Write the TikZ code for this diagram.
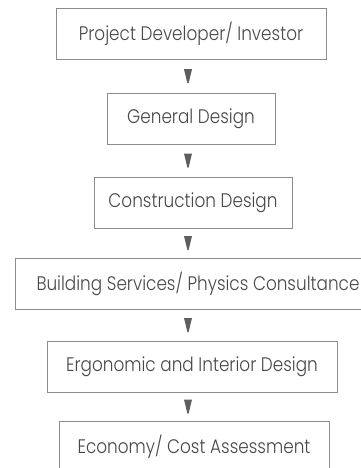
\documentclass[tikz,border=0pt]{standalone}
\usepackage{fontspec}
\setmainfont{Poppins Light}[FakeStretch=0.86]
\usetikzlibrary{calc}
\definecolor{txtgray}{HTML}{484848}
\definecolor{linegray}{HTML}{8C8C8C}
\definecolor{arrgray}{HTML}{5E5E5E}
\tikzset{
  stagebox/.style={draw=linegray, line width=0.9pt, text=txtgray, inner sep=0pt,
    minimum height=51pt, font=\fontsize{19.6}{22}\selectfont},
  downtri/.style={fill=arrgray}
}
\newcommand{\tri}[1]{\fill[downtri] ($(#1)+(-4pt,7pt)$) -- ($(#1)+(4pt,7pt)$) -- ($(#1)+(0.6pt,-7pt)$) -- ($(#1)+(-0.6pt,-7pt)$) -- cycle;}
\begin{document}
\begin{tikzpicture}[x=1pt,y=1pt]
\useasboundingbox (0,0) rectangle (361,-468);
\node[stagebox, minimum width=270pt] (b1) at (191,-34) {Project Developer/ Investor};
\node[stagebox, minimum width=168pt] (b2) at (191,-118.5) {General Design};
\node[stagebox, minimum width=198pt] (b3) at (193,-202.5) {Construction Design};
\node[stagebox, minimum width=366pt] (b4) at (198,-283.5) {Building Services/ Physics Consultance};
\node[stagebox, minimum width=290pt] (b5) at (192,-366.5) {Ergonomic and Interior Design};
\node[stagebox, minimum width=270pt] (b6) at (194,-446.5) {Economy/ Cost Assessment};
\coordinate (ax) at (188,0);
\foreach \a/\b/\n in {b1/b2/1,b2/b3/2,b3/b4/3,b4/b5/4,b5/b6/5}{
  \coordinate (m\n) at ($(\a.south)!0.5!(\b.north)$);
  \coordinate (t\n) at (ax |- m\n);
  \tri{t\n}
}
\end{tikzpicture}
\end{document}
